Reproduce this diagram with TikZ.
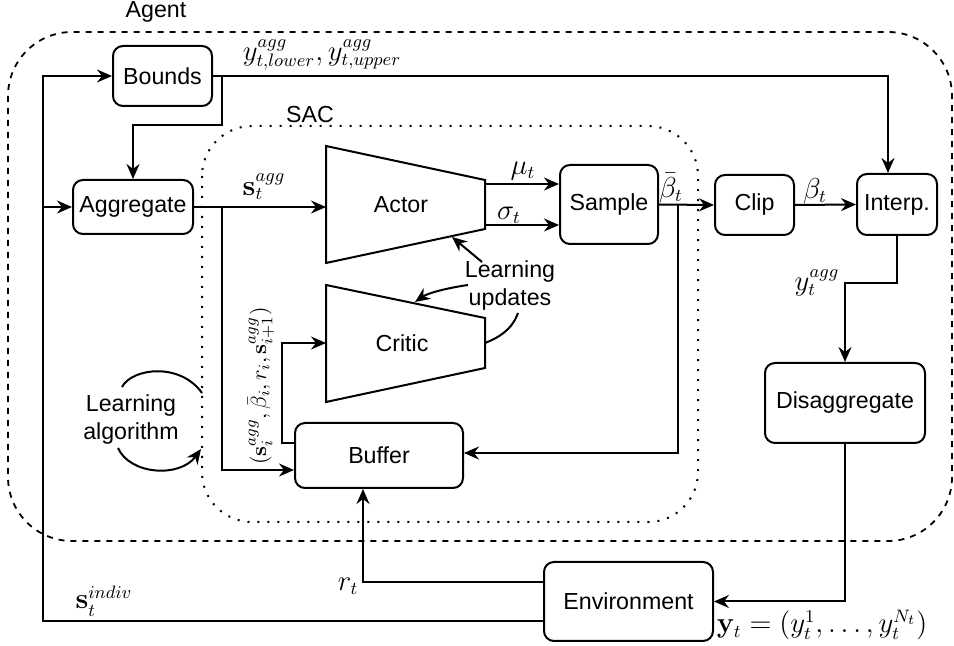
\documentclass[tikz,border=0pt]{standalone}
\usepackage[no-math]{fontspec}
\setmainfont{Liberation Sans}
\usetikzlibrary{arrows.meta}
\begin{document}
\begin{tikzpicture}[x=0.5pt,y=-0.5pt,
  every node/.style={font=\fontsize{11.6}{14}\selectfont, inner sep=0pt},
  box/.style={draw, line width=1pt, rounded corners=5pt, align=center},
  conn/.style={line width=1pt},
  arr/.style={conn, -{Stealth[length=7.5pt,width=6.5pt,inset=2.5pt]}},
  mlbl/.style={font=\fontsize{13.5}{16}\selectfont},
  slbl/.style={font=\fontsize{10.8}{13}\selectfont},
  txt/.style={align=center}]
\useasboundingbox (0,0) rectangle (954,646);

% Agent and SAC frames
\draw[line width=0.9pt, dash pattern=on 3pt off 3pt, rounded corners=32pt] (8,32) rectangle (952,541);
\node (agentlbl) at (156,11.5) {Agent};
\draw[line width=1pt, dash pattern=on 1pt off 4pt, rounded corners=25pt] (202,126) rectangle (698,522);
\node (saclbl) at (310,115) {SAC};

% boxes
\node[box, minimum width=49.5pt, minimum height=30pt] (bounds) at (162.5,76) {Bounds};
\node[box, minimum width=60pt, minimum height=27pt] (agg) at (133,207) {Aggregate};
\node[box, minimum width=49pt, minimum height=39.5pt] (sample) at (609,204.5) {Sample};
\node[box, minimum width=39.5pt, minimum height=30pt] (clip) at (754.5,205) {Clip};
\node[box, minimum width=40pt, minimum height=30.5pt] (interp) at (897,204.5) {Interp.};
\node[box, minimum width=80pt, minimum height=40pt] (disagg) at (845,403) {Disaggregate};
\node[box, minimum width=84.5pt, minimum height=39.5pt] (env) at (628.5,601.5) {Environment};
\node[box, minimum width=84pt, minimum height=32.5pt] (buffer) at (379,455.5) {Buffer};

% actor / critic trapezoids
\draw[conn, line join=miter] (326,146) -- (485,180) -- (485,229) -- (326,263) -- cycle;
\node (actor) at (401,204.5) {Actor};
\draw[conn, line join=miter] (326,285) -- (485,318) -- (485,368) -- (326,402) -- cycle;
\node (critic) at (402,343) {Critic};
\coordinate (actorW) at (326,207);
\coordinate (actorMu) at (485,184);
\coordinate (actorSig) at (485,225);
\coordinate (criticW) at (326,343);
\coordinate (criticE) at (485,343);
\coordinate (actorB) at (452,237);
\coordinate (criticT) at (415,302);

% junctions
\coordinate (b1) at (222,125);
\coordinate (lx) at (43,621);
\coordinate (j1) at (222,207);
\coordinate (j2) at (282,400);
\coordinate (j3) at (678,204.5);
\coordinate (j4) at (870,283);

% connectors
\draw[arr] (bounds.east) -| ([xshift=-4.5pt]interp.north);
\draw[arr] (bounds.east) -| (b1) -| (agg.north);
\draw[arr] ([yshift=-9.75pt]env.west) -- (lx) |- (bounds.west);
\draw[arr] ([yshift=-9.75pt]env.west) -- (lx) |- (agg.west);
\draw[arr] ([yshift=9.75pt]env.west) -| ([xshift=-8pt]buffer.south);
\draw[arr] (agg.east) -- (actorW);
\draw[arr] (agg.east) -- (j1) |- ([yshift=-7.25pt]buffer.west);
\draw[arr] ([yshift=6.25pt]buffer.west) -| (j2) |- (criticW);
\draw[arr] (actorMu) -- (actorMu -| sample.west);
\draw[arr] (actorSig) -- (actorSig -| sample.west);
\draw[arr] (sample.east) -- (clip.west);
\draw[arr] (j3) |- ([yshift=1.25pt]buffer.east);
\draw[arr] (clip.east) -- (interp.west);
\draw[arr] (interp.south) |- (j4) -| (disagg.north);
\draw[arr] (disagg.south) |- (env.east);

% learning updates
\node[txt] (lu) at (510,286) {Learning\\updates};
\coordinate (lu1) at (482,262);
\coordinate (lu2) at (468,285);
\coordinate (lu3) at (518,313);
\draw[arr] (lu1) -- (actorB);
\draw[arr] (lu2) .. controls (447,288) and (428,293) .. (criticT);
\draw[conn] (lu3) .. controls (512,330) and (498,338) .. (criticE);

% learning algorithm
\node[txt] (la) at (131,420) {Learning\\algorithm};
\coordinate (la1) at (122,387);
\coordinate (la2) at (202,393);
\coordinate (la3) at (118,448);
\coordinate (la4) at (201,449);
\draw[conn] (la1) .. controls (132,368) and (180,362) .. (la2);
\draw[arr] (la3) .. controls (130,475) and (180,478) .. (la4);

% math labels
\node[mlbl] (ylu) at (322,55) {$y^{agg}_{t,lower}, y^{agg}_{t,upper}$};
\node[mlbl] (sagg) at (264,187) {$\mathbf{s}^{agg}_t$};
\node[mlbl] (mu) at (523,171) {$\mu_t$};
\node[mlbl] (sig) at (509,215) {$\sigma_t$};
\node[mlbl] (bbar) at (671,188) {$\bar{\beta}_t$};
\node[mlbl] (beta) at (815,191) {$\beta_t$};
\node[mlbl] (yagg) at (817,283) {$y^{agg}_t$};
\node[mlbl] (yt) at (822,625) {$\mathbf{y}_t=(y^1_t,\ldots,y^{N_t}_t)$};
\node[mlbl] (rt) at (348,586) {$r_t$};
\node[mlbl] (sind) at (104,601) {$\mathbf{s}^{indiv}_t$};
\node[slbl, rotate=90] (tuple) at (261,386) {$(\mathbf{s}^{agg}_i,\bar{\beta}_i,r_i,\mathbf{s}^{agg}_{i+1})$};
\end{tikzpicture}
\end{document}
